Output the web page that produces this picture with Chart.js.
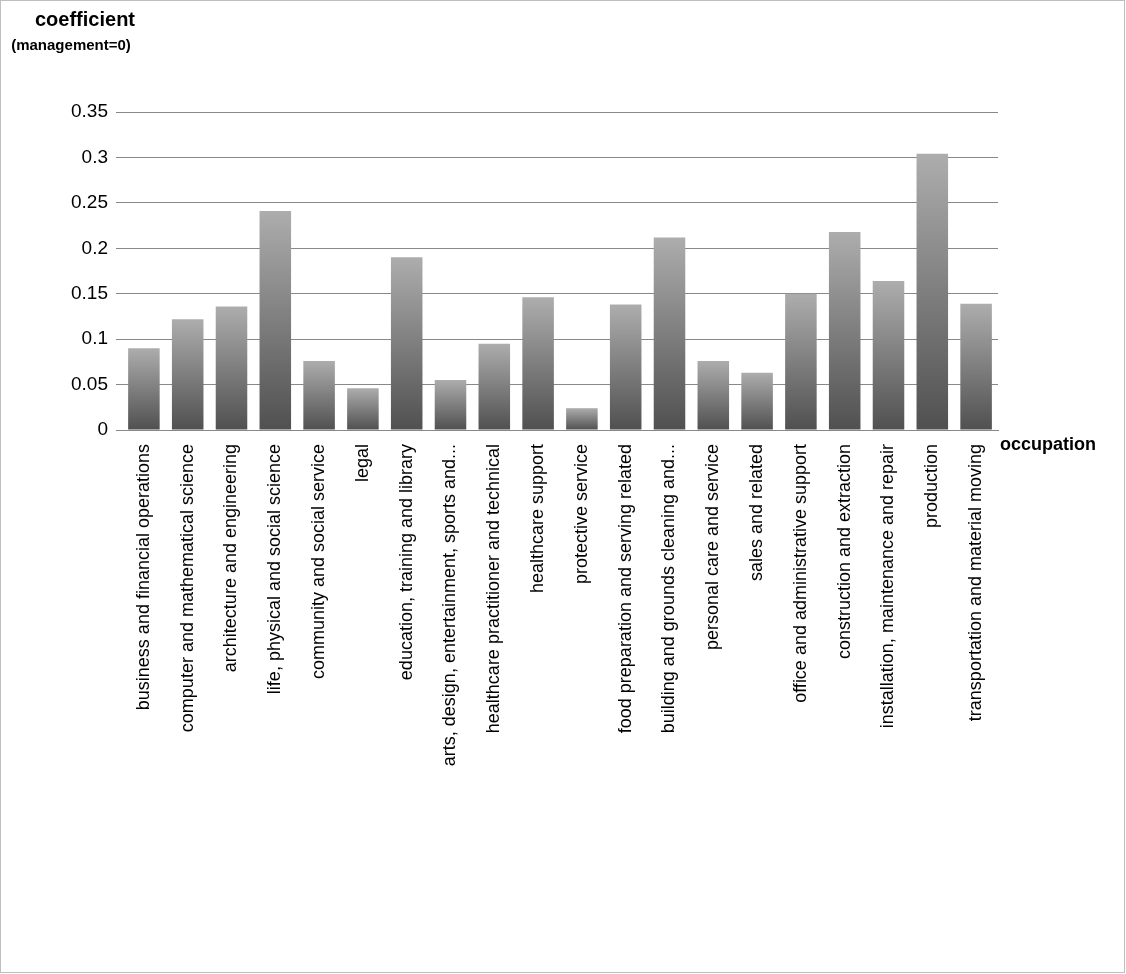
<!DOCTYPE html>
<html><head><meta charset="utf-8">
<script src="https://cdn.jsdelivr.net/npm/chart.js@4"></script>
<style>html,body{margin:0;padding:0;background:#fff}#w{width:1126px;height:974px;position:relative}</style>
</head><body><div id="w"><canvas id="c"></canvas></div>
<script>
const categories = ["business and financial operations","computer and mathematical science","architecture and engineering","life, physical and social science","community and social service","legal","education, training and library","arts, design, entertainment, sports and...","healthcare practitioner and technical","healthcare support","protective service","food preparation and serving related","building and grounds cleaning and...","personal care and service","sales and related","office and administrative support","construction and extraction","installation, maintenance and repair","production","transportation and material moving"];
const coefficients = [0.090,0.122,0.136,0.241,0.076,0.046,0.190,0.055,0.095,0.146,0.024,0.138,0.212,0.076,0.063,0.150,0.218,0.164,0.304,0.139];
const yTicks = [0,0.05,0.1,0.15,0.2,0.25,0.3,0.35];
const FONT = "'Liberation Sans', Arial, sans-serif";
const deco = {id:'deco', afterDraw(ch){const c=ch.ctx;c.save();
 c.strokeStyle='#bfbfbf';c.lineWidth=1;c.strokeRect(0.5,0.5,1124,972);
 c.fillStyle='#000';c.font="bold 20px "+FONT;c.textAlign='center';c.textBaseline='middle';
 c.fillText('coefficient',85,20);c.font="bold 15px "+FONT;c.fillText('(management=0)',71,46);
 c.textAlign='left';c.font="bold 18px "+FONT;c.fillText('occupation',1000,445);c.restore();}};
new Chart(document.getElementById('c'),{type:'bar',
 data:{labels:categories,datasets:[{data:coefficients,barPercentage:0.72,categoryPercentage:1,
  backgroundColor(ctx){const ch=ctx.chart,a=ch.chartArea;if(!a||ctx.parsed==null)return '#888';
   const top=ch.scales.y.getPixelForValue(ctx.parsed.y);
   const g=ch.ctx.createLinearGradient(0,top,0,a.bottom);g.addColorStop(0,'#adadad');g.addColorStop(1,'#505050');return g;}}]},
 options:{responsive:true,maintainAspectRatio:false,animation:false,
  layout:{padding:{top:112,right:128,left:10,bottom:10}},
  plugins:{legend:{display:false},tooltip:{enabled:false}},
  scales:{
   x:{grid:{display:false},border:{color:'#888'},ticks:{color:'#000',font:{size:18,family:FONT},padding:6,maxRotation:90,minRotation:90,autoSkip:false},
      afterFit(s){s.height=974-430-10;}},
   y:{min:0,max:0.35,afterBuildTicks(s){s.ticks=yTicks.map(v=>({value:v}));},
      grid:{color:'#888',drawTicks:true,tickLength:6},border:{display:false},
      ticks:{color:'#000',font:{size:19,family:FONT},padding:8,callback:v=>String(v)},
      afterFit(s){s.width=122-10;}}}},
 plugins:[deco]});
</script></body></html>
